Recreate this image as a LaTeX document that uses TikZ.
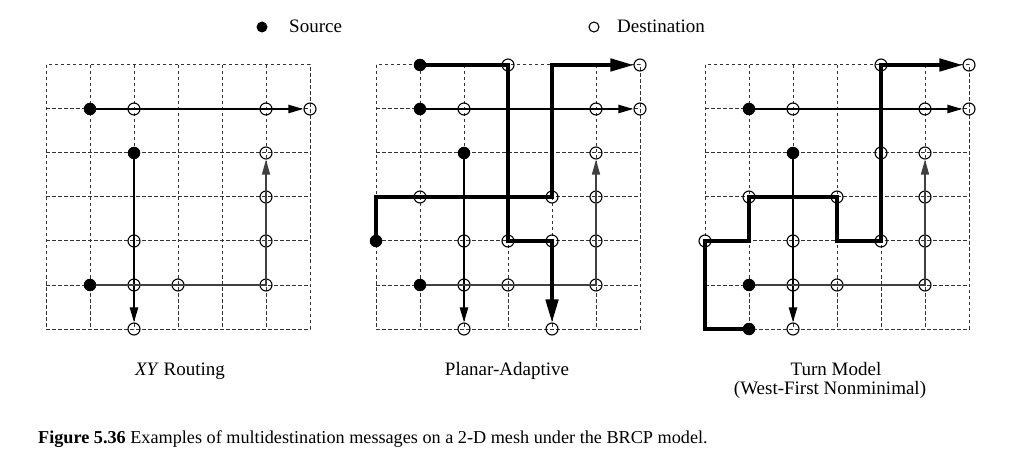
\documentclass[tikz,border=0pt]{standalone}
\usepackage{fontspec}
\setmainfont{Liberation Serif}
\usetikzlibrary{arrows.meta}

\tikzset{
  meshline/.style={black!80, line width=1pt, dash pattern=on 3.5pt off 2.5pt},
  src/.style={circle, fill=black, inner sep=0pt, minimum size=12.5pt},
  dst/.style={circle, draw=black, line width=1.1pt, inner sep=0pt, minimum size=12pt},
  msgthin/.style={line width=1.4pt, black!75},
  msg/.style={line width=2.2pt},
  msgthick/.style={line width=3.2pt},
  tipsmall/.style={-{Triangle[length=15pt,width=8pt]}},
  tipbig/.style={-{Triangle[length=23pt,width=12.5pt]}},
  caplabel/.style={inner sep=0pt, font=\fontsize{19}{22}\selectfont}
}

\begin{document}
\begin{tikzpicture}[x=1pt,y=-1pt]

	% Rahmen
	\useasboundingbox (0,0) rectangle (1031,465);

	% Gitter, Knoten und gemeinsame Nachrichten
	\foreach \m/\x in {a/46,b/376,c/705}{
		\foreach \i in {0,...,6}
			\foreach \j in {0,...,6}
				\coordinate (\m-\i-\j) at (\x+44*\i, 65+44*\j);
		\draw[meshline] (\m-0-0) rectangle (\m-6-6);
		\foreach \k in {1,...,5}{
			\draw[meshline] (\m-\k-0) -- (\m-\k-6);
			\draw[meshline] (\m-0-\k) -- (\m-6-\k);
		}
		\foreach \i/\j in {1/1,2/2,1/5}
			\node[src] (\m-s\i\j) at (\m-\i-\j) {};
		\foreach \i/\j in {2/1,5/1,6/1,2/4,2/5,2/6,3/5,5/5,5/4,5/3,5/2}
			\node[dst] (\m-d\i\j) at (\m-\i-\j) {};
		\draw[msg,tipsmall] (\m-s11) -- (\m-d61);
		\draw[msg,tipsmall] (\m-s22) -- (\m-d26);
		\draw[msgthin,tipsmall] (\m-s15) -- (\m-5-5) -- (\m-d52);
	}

	% Planar-Adaptive
	\foreach \i/\j in {1/0,0/4}
		\node[src] (b-s\i\j) at (b-\i-\j) {};
	\foreach \i/\j in {3/0,3/4,4/4,4/6,1/3,4/3,6/0}
		\node[dst] (b-d\i\j) at (b-\i-\j) {};
	\draw[msgthick,tipbig] (b-s10) -- (b-3-0) -- (b-3-4) -- (b-4-4) -- (b-d46);
	\draw[msgthick,tipbig] (b-s04) -- (b-0-3) -- (b-4-3) -- (b-4-0) -- (b-d60);

	% Turn Model
	\node[src] (c-s16) at (c-1-6) {};
	\foreach \i/\j in {0/4,1/3,3/3,4/4,4/2,4/0,6/0}
		\node[dst] (c-d\i\j) at (c-\i-\j) {};
	\draw[msgthick,tipbig] (c-s16) -- (c-0-6) -- (c-0-4) -- (c-1-4) -- (c-1-3)
		-- (c-3-3) -- (c-3-4) -- (c-4-4) -- (c-4-0) -- (c-d60);

	% Legende
	\node[src, minimum size=11pt] (legsrc) at (262,27) {};
	\node[caplabel, anchor=base west] (legsrctext) at (289,33) {Source};
	\node[dst, minimum size=10pt] (legdst) at (594,27) {};
	\node[caplabel, anchor=base west] (legdsttext) at (617,33) {Destination};

	% Beschriftungen
	\node[caplabel, anchor=base] (titlea) at (180,375) {\textit{XY} Routing};
	\node[caplabel, anchor=base] (titleb) at (507,375) {Planar-Adaptive};
	\node[caplabel, anchor=base] (titlec) at (836,375) {Turn Model};
	\node[caplabel, anchor=base] (titlec2) at (830,394) {(West-First Nonminimal)};

	% Bildunterschrift
	\node[caplabel, anchor=base west, font=\fontsize{18.2}{21}\selectfont] (caption) at (38,443)
		{\textbf{Figure 5.36} Examples of multidestination messages on a 2-D mesh under the BRCP model.};

\end{tikzpicture}
\end{document}
